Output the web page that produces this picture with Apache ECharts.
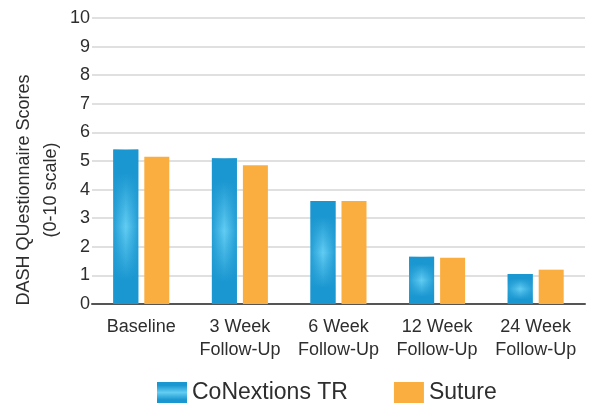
<!DOCTYPE html>
<html>
<head>
<meta charset="utf-8">
<script src="https://cdn.jsdelivr.net/npm/echarts@6/dist/echarts.min.js"></script>
<style>
  html, body { margin: 0; padding: 0; background: #fff; }
  #chart { width: 597px; height: 404px; }
</style>
</head>
<body>
<div id="chart"></div>
<script>
const categories = ['Baseline', '3 Week\nFollow-Up', '6 Week\nFollow-Up', '12 Week\nFollow-Up', '24 Week\nFollow-Up'];
const conextions = [5.4, 5.1, 3.6, 1.65, 1.05];
const suture = [5.15, 4.85, 3.6, 1.62, 1.2];
const yMin = 0;
const yMax = 10;
const yStep = 1;

const fontFamily = '"Liberation Sans", Arial, sans-serif';
const textColor = '#2e2e2e';
const blueDark = '#1a96d0';
const blueLight = '#62cdf3';
const orange = '#fbae40';

const chart = echarts.init(document.getElementById('chart'), null, { renderer: 'canvas' });

// vertical glow for the blue bars, a second pass darkens the sides
const blueFill = {
    type: 'linear', x: 0, y: 0, x2: 0, y2: 1,
    colorStops: [
        { offset: 0, color: blueDark },
        { offset: 0.15, color: blueDark },
        { offset: 0.5, color: blueLight },
        { offset: 0.85, color: blueDark },
        { offset: 1, color: blueDark },
    ],
};
const blueSides = {
    type: 'linear', x: 0, y: 0, x2: 1, y2: 0,
    colorStops: [
        { offset: 0, color: 'rgba(26,150,208,0.85)' },
        { offset: 0.5, color: 'rgba(26,150,208,0)' },
        { offset: 1, color: 'rgba(26,150,208,0.85)' },
    ],
};

const barWidth = 25;

chart.setOption({
    animation: false,
    textStyle: { fontFamily },
    grid: { left: 92, right: 12, top: 18, bottom: 100 },
    legend: {
        data: ['CoNextions TR', 'Suture'],
        icon: 'rect',
        left: 152,
        top: 376,
        itemWidth: 30,
        itemHeight: 21,
        itemGap: 46,
        textStyle: { color: textColor, fontSize: 23, fontFamily },
    },
    graphic: [{
        type: 'text',
        x: 38,
        y: 190,
        rotation: Math.PI / 2,
        style: {
            text: 'DASH QUestionnaire Scores\n(0-10 scale)',
            fill: textColor,
            font: '18px ' + fontFamily,
            align: 'center',
            verticalAlign: 'middle',
            lineHeight: 27,
        },
    }],
    xAxis: [
        {
            type: 'category',
            data: categories,
            axisLine: { lineStyle: { color: '#555', width: 2 } },
            axisTick: { show: false },
            axisLabel: { color: textColor, fontSize: 18, lineHeight: 23, margin: 12, interval: 0 },
        },
        { type: 'category', data: categories, show: false },
    ],
    yAxis: {
        type: 'value',
        min: yMin,
        max: yMax,
        interval: yStep,
        axisLine: { show: false },
        axisTick: { show: false },
        axisLabel: { color: textColor, fontSize: 18, margin: 2 },
        splitLine: { lineStyle: { color: '#d6d6d6', width: 1.5 } },
    },
    series: [
        {
            name: 'CoNextions TR',
            type: 'bar',
            data: conextions,
            barWidth,
            barGap: '24%',
            itemStyle: { color: blueFill },
            z: 2,
        },
        {
            name: 'Suture',
            type: 'bar',
            data: suture,
            barWidth,
            barGap: '24%',
            itemStyle: { color: orange },
            z: 2,
        },
        {
            name: 'blueSides',
            type: 'bar',
            xAxisIndex: 1,
            data: conextions,
            barWidth,
            barGap: '24%',
            silent: true,
            itemStyle: { color: blueSides },
            z: 3,
        },
        {
            name: 'spacer',
            type: 'bar',
            xAxisIndex: 1,
            data: suture,
            barWidth,
            barGap: '24%',
            silent: true,
            itemStyle: { color: 'rgba(0,0,0,0)' },
            z: 1,
        },
    ],
});
</script>
</body>
</html>
